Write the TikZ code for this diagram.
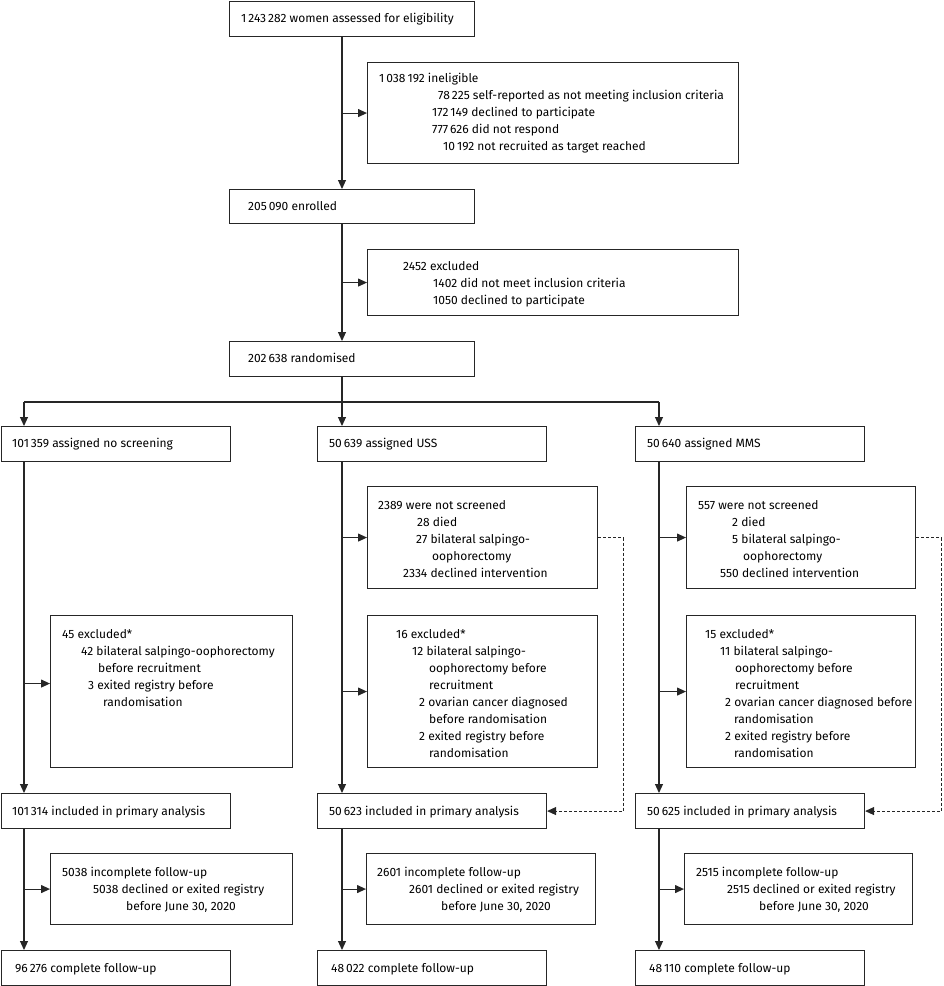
\documentclass[tikz,border=0pt]{standalone}
\usepackage{fontspec}
\setmainfont{Fira Sans}
\usetikzlibrary{arrows.meta}
\newcommand\bx[5]{\node[box, minimum width={#4pt-#2pt}, minimum height={#5pt-#3pt}] (#1) at (#2,#3) {};}
\newcommand\tx[4]{\node[txt] (#1) at (#2,#3-6.5) {\rule{0pt}{10.5pt}#4};}
\newcommand\ind[1]{\hspace*{#1pt}}
\begin{document}
\begin{tikzpicture}[x=1pt,y=-1pt,
  box/.style={draw=black!85, line width=1.1pt, inner sep=0pt, anchor=north west},
  txt/.style={inner sep=0pt, anchor=north west, align=left, font=\fontsize{12}{17}\selectfont},
  ln/.style={draw=black!85, line width=1.1pt},
  arr/.style={ln, -{Triangle[length=9pt,width=8pt]}},
  dsh/.style={ln, line width=0.9pt, dash pattern=on 3pt off 2pt, -{Triangle[length=9pt,width=8pt]}}]
\useasboundingbox (0,0) rectangle (944,986);
% boxes
\bx{top}{229}{1}{474}{36}
\bx{inel}{367}{62}{738}{163}
\bx{enr}{229}{189}{474}{223}
\bx{exc}{367}{249}{738}{315}
\bx{rand}{229}{341}{474}{376}
\bx{ns}{1}{426}{230}{461}
\bx{uss}{317}{426}{546}{461}
\bx{mms}{635}{426}{864}{461}
\bx{ussnot}{367}{486}{597}{588}
\bx{mmsnot}{686}{486}{915}{588}
\bx{lexc}{50}{615}{292}{767}
\bx{ussexc}{367}{615}{597}{767}
\bx{mmsexc}{686}{615}{915}{767}
\bx{linc}{1}{793}{230}{828}
\bx{ussinc}{317}{793}{546}{828}
\bx{mmsinc}{635}{793}{864}{828}
\bx{linco}{50}{853}{292}{924}
\bx{ussinco}{366}{853}{595}{924}
\bx{mmsinco}{684}{853}{912}{924}
\bx{lcomp}{1}{950}{230}{985}
\bx{usscomp}{317}{950}{546}{985}
\bx{mmscomp}{635}{950}{864}{985}
% texts
\tx{ttop}{241}{18}{1\,243\,282 women assessed for eligibility}
\tx{tinel}{379}{78}{1\,038\,192 ineligible\\
 \ind{59}78\,225 self-reported as not meeting inclusion criteria\\
 \ind{53}172\,149 declined to participate\\
 \ind{53}777\,626 did not respond\\
 \ind{64}10\,192 not recruited as target reached}
\tx{tenr}{248}{206}{205\,090 enrolled}
\tx{texc}{403}{266}{2452 excluded\\
 \ind{30}1402 did not meet inclusion criteria\\
 \ind{30}1050 declined to participate}
\tx{trand}{248}{358}{202\,638 randomised}
\tx{tns}{12}{443}{101\,359 assigned no screening}
\tx{tuss}{329}{443}{50\,639 assigned USS}
\tx{tmms}{647}{443}{50\,640 assigned MMS}
\tx{tussnot}{378}{505}{2389 were not screened\\
 \ind{39}28 died\\
 \ind{38}27 bilateral salpingo-\\
 \ind{54}oophorectomy\\
 \ind{25}2334 declined intervention}
\tx{tmmsnot}{698}{505}{557 were not screened\\
 \ind{34}2 died\\
 \ind{34}5 bilateral salpingo-\\
 \ind{45}oophorectomy\\
 \ind{22}550 declined intervention}
\tx{tlexc}{62}{634}{45 excluded*\\
 \ind{19}42 bilateral salpingo-oophorectomy\\
 \ind{36}before recruitment\\
 \ind{26}3 exited registry before\\
 \ind{41}randomisation}
\tx{tussexc}{396}{634}{16 excluded*\\
 \ind{16}12 bilateral salpingo-\\
 \ind{33}oophorectomy before\\
 \ind{33}recruitment\\
 \ind{23}2 ovarian cancer diagnosed\\
 \ind{33}before randomisation\\
 \ind{23}2 exited registry before\\
 \ind{33}randomisation}
\tx{tmmsexc}{705}{634}{15 excluded*\\
 \ind{15}11 bilateral salpingo-\\
 \ind{30}oophorectomy before\\
 \ind{30}recruitment\\
 \ind{20}2 ovarian cancer diagnosed before\\
 \ind{29}randomisation\\
 \ind{20}2 exited registry before\\
 \ind{29}randomisation}
\tx{tlinc}{12}{811}{101\,314 included in primary analysis}
\tx{tussinc}{329}{811}{50\,623 included in primary analysis}
\tx{tmmsinc}{647}{811}{50\,625 included in primary analysis}
\tx{tlinco}{62}{872}{5038 incomplete follow-up\\
 \ind{31}5038 declined or exited registry\\
 \ind{64}before June 30, 2020}
\tx{tussinco}{377}{872}{2601 incomplete follow-up\\
 \ind{32}2601 declined or exited registry\\
 \ind{64}before June 30, 2020}
\tx{tmmsinco}{696}{872}{2515 incomplete follow-up\\
 \ind{31}2515 declined or exited registry\\
 \ind{63}before June 30, 2020}
\tx{tlcomp}{15}{968}{96\,276 complete follow-up}
\tx{tusscomp}{331}{968}{48\,022 complete follow-up}
\tx{tmmscomp}{649}{968}{48\,110 complete follow-up}
% column coordinates
\coordinate (xa) at (24,402);
\coordinate (xb) at (342,402);
\coordinate (xc) at (659,402);
% main trunk
\draw[arr] (top.south -| xb) -- (enr.north -| xb);
\draw[arr] (inel.west -| xb) -- (inel.west);
\draw[arr] (enr.south -| xb) -- (rand.north -| xb);
\draw[arr] (exc.west -| xb) -- (exc.west);
\draw[ln] (rand.south -| xb) -- (xb);
\draw[ln] (xa) -- (xc);
\draw[arr] (xa) -- (ns.north -| xa);
\draw[arr] (xb) -- (uss.north -| xb);
\draw[arr] (xc) -- (mms.north -| xc);
% left column
\draw[arr] (ns.south -| xa) -- (linc.north -| xa);
\draw[arr] ([yshift=8pt]lexc.west -| xa) -- ([yshift=8pt]lexc.west);
\draw[arr] (linc.south -| xa) -- (lcomp.north -| xa);
\draw[arr] (linco.west -| xa) -- (linco.west);
% USS column
\draw[arr] (uss.south -| xb) -- (ussinc.north -| xb);
\draw[arr] (ussnot.west -| xb) -- (ussnot.west);
\draw[arr] (ussexc.west -| xb) -- (ussexc.west);
\draw[arr] (ussinc.south -| xb) -- (usscomp.north -| xb);
\draw[arr] (ussinco.west -| xb) -- (ussinco.west);
\draw[dsh] (ussnot.east) -- ++(25,0) |- (ussinc.east);
% MMS column
\draw[arr] (mms.south -| xc) -- (mmsinc.north -| xc);
\draw[arr] (mmsnot.west -| xc) -- (mmsnot.west);
\draw[arr] (mmsexc.west -| xc) -- (mmsexc.west);
\draw[arr] (mmsinc.south -| xc) -- (mmscomp.north -| xc);
\draw[arr] (mmsinco.west -| xc) -- (mmsinco.west);
\draw[dsh] (mmsnot.east) -- ++(25,0) |- (mmsinc.east);
\end{tikzpicture}
\end{document}
